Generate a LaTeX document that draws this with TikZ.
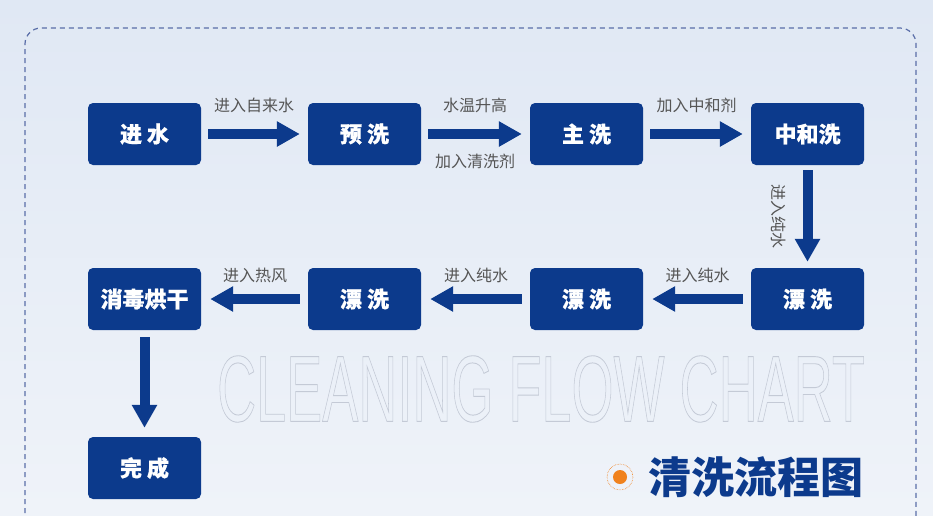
\documentclass[tikz,border=0pt]{standalone}
\usepackage{fontspec}
\setmainfont{Liberation Sans}
\newfontfamily\cjk{Noto Sans CJK SC}
\newfontfamily\cjkheavy[BoldFeatures={FakeBold=0.6}]{Noto Sans CJK SC}
\usetikzlibrary{arrows.meta}
\definecolor{boxblue}{RGB}{12,58,140}
\definecolor{lblgray}{RGB}{85,85,85}
\definecolor{framec}{RGB}{90,110,168}
\definecolor{bgtop}{RGB}{224,232,244}
\definecolor{bgbot}{RGB}{239,243,249}
\definecolor{orng}{RGB}{240,130,30}
\definecolor{outl}{RGB}{196,202,214}
\tikzset{
  stepbox/.style={fill=boxblue, rounded corners=5pt, minimum width=113pt, minimum height=62pt,
    text=white, font=\cjkheavy\bfseries\fontsize{22}{22}\selectfont, inner sep=0pt},
  flow/.style={line width=10pt, draw=boxblue, -{Triangle[length=23pt,width=24pt]}},
  lbl/.style={font=\cjk\fontsize{16}{16}\selectfont, text=lblgray, inner sep=0pt},
}
\begin{document}
\begin{tikzpicture}[x=1pt,y=-1pt]
\useasboundingbox (0,0) rectangle (933,515);
\shade[top color=bgtop, bottom color=bgbot] (0,0) rectangle (933,515);
% dashed frame
\draw[framec, line width=1.2pt, dash pattern=on 5pt off 4pt, rounded corners=16pt]
  (25,540) -- (25,28) -- (916,28) -- (916,540);
% outline background text
\node[font=\fontsize{94}{94}\selectfont, xscale=0.575, text=outl, inner sep=0pt] (bgtxt) at (541,389)
  {\special{pdf:literal direct 1 Tr 0.9 w}CLEANING FLOW CHART\special{pdf:literal direct 0 Tr}};
% boxes
\node[stepbox] (b1) at (144.5,134) {进 水};
\node[stepbox] (b2) at (364.5,134) {预 洗};
\node[stepbox] (b3) at (586.5,134) {主 洗};
\node[stepbox] (b4) at (807.5,134) {中和洗};
\node[stepbox] (b5) at (807.5,299) {漂 洗};
\node[stepbox] (b6) at (586.5,299) {漂 洗};
\node[stepbox] (b7) at (364.5,299) {漂 洗};
\node[stepbox] (b8) at (144.5,299) {消毒烘干};
\node[stepbox] (b9) at (144.5,468) {完 成};
% arrows
\draw[flow] ([xshift=7pt]b1.east) -- ([xshift=-8pt]b2.west) node[lbl, midway, yshift=29pt] (l1) {进入自来水};
\draw[flow] ([xshift=7pt]b2.east) -- ([xshift=-8pt]b3.west) node[lbl, midway, yshift=29pt] (l2) {水温升高}
  node[lbl, midway, yshift=-27pt] (l3) {加入清洗剂};
\draw[flow] ([xshift=7pt]b3.east) -- ([xshift=-8pt]b4.west) node[lbl, midway, yshift=29pt] (l4) {加入中和剂};
\draw[flow] ([yshift=-5pt]b4.south) -- ([yshift=6pt]b5.north) node[lbl, midway, xshift=-29pt, rotate=-90] (l5) {进入纯水};
\draw[flow] ([xshift=-8pt]b5.west) -- ([xshift=9pt]b6.east) node[lbl, midway, yshift=24pt] (l6) {进入纯水};
\draw[flow] ([xshift=-8pt]b6.west) -- ([xshift=9pt]b7.east) node[lbl, midway, yshift=24pt] (l7) {进入纯水};
\draw[flow] ([xshift=-8pt]b7.west) -- ([xshift=9pt]b8.east) node[lbl, midway, yshift=24pt] (l8) {进入热风};
\draw[flow] ([yshift=-7pt]b8.south) -- ([yshift=9pt]b9.north);
% title
\fill[orng] (620,477) circle (7);
\draw[orng, densely dotted, line width=0.6pt] (620,477) circle (13);
\node[font=\cjk\bfseries\fontsize{43}{43}\selectfont, text=boxblue, anchor=west, inner sep=0pt] (title) at (648,477) {清洗流程图};
\end{tikzpicture}
\end{document}
